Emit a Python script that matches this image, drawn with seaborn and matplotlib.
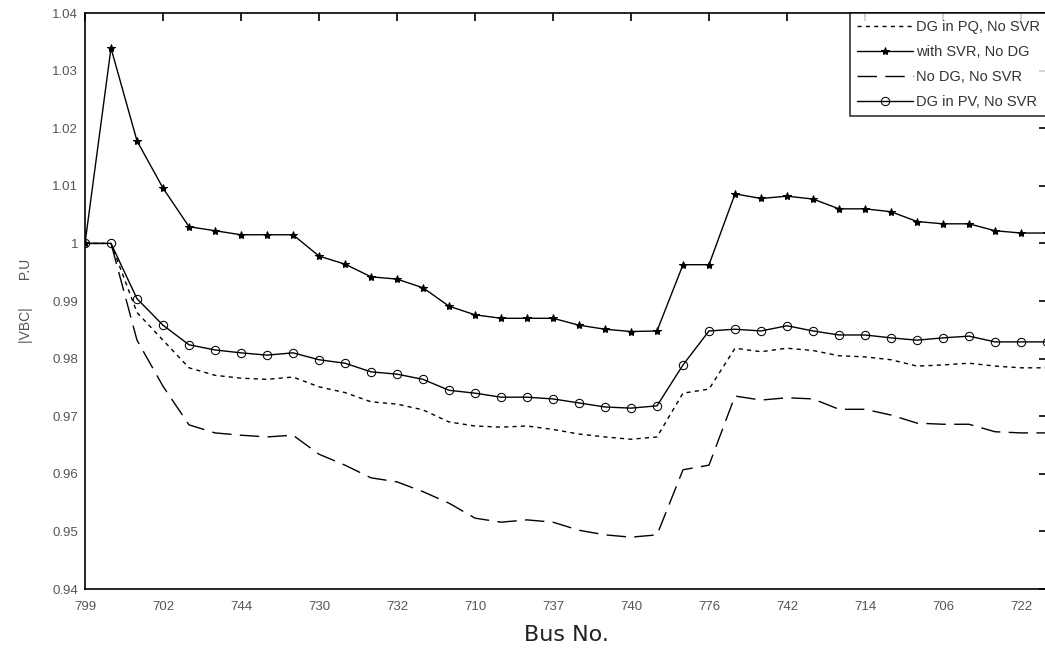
import numpy as np
import pandas as pd
import matplotlib
matplotlib.use("Agg")
import matplotlib.pyplot as plt
import seaborn as sns

# bus order along the feeder (only every third one is labelled)
tick_pos = [0, 3, 6, 9, 12, 15, 18, 21, 24, 27, 30, 33, 36]
tick_labels = ["799", "702", "744", "730", "732", "710", "737", "740",
               "776", "742", "714", "706", "722"]

dg_pq = [1.0, 1.0, 0.988, 0.9832, 0.9784, 0.9771, 0.9766, 0.9764, 0.9768, 0.9751,
         0.9741, 0.9725, 0.9721, 0.9711, 0.9690, 0.9683, 0.9681, 0.9683, 0.9677, 0.9669,
         0.9664, 0.9660, 0.9664, 0.9740, 0.9747, 0.9818, 0.9812, 0.9818, 0.9814, 0.9805,
         0.9803, 0.9798, 0.9787, 0.9789, 0.9792, 0.9787, 0.9784, 0.9784]
with_svr = [1.0, 1.0339, 1.0178, 1.0096, 1.0029, 1.0022, 1.0015, 1.0015, 1.0015, 0.9978,
            0.9964, 0.9942, 0.9938, 0.9923, 0.9891, 0.9876, 0.9870, 0.9870, 0.9870, 0.9858,
            0.9851, 0.9847, 0.9848, 0.9963, 0.9963, 1.0086, 1.0078, 1.0082, 1.0077, 1.0060,
            1.0060, 1.0055, 1.0038, 1.0034, 1.0034, 1.0022, 1.0018, 1.0018]
no_dg = [1.0, 1.0, 0.9832, 0.9752, 0.9685, 0.9671, 0.9667, 0.9664, 0.9667, 0.9634,
         0.9615, 0.9593, 0.9586, 0.9569, 0.9549, 0.9523, 0.9516, 0.9520, 0.9516, 0.9502,
         0.9494, 0.9490, 0.9494, 0.9607, 0.9615, 0.9735, 0.9728, 0.9732, 0.9730, 0.9712,
         0.9712, 0.9702, 0.9688, 0.9686, 0.9686, 0.9673, 0.9671, 0.9671]
dg_pv = [1.0, 1.0, 0.9904, 0.9858, 0.9824, 0.9815, 0.9810, 0.9806, 0.9810, 0.9798,
         0.9792, 0.9777, 0.9773, 0.9764, 0.9745, 0.9740, 0.9733, 0.9733, 0.9730, 0.9723,
         0.9716, 0.9714, 0.9718, 0.9789, 0.9848, 0.9851, 0.9848, 0.9857, 0.9848, 0.9841,
         0.9841, 0.9836, 0.9832, 0.9836, 0.9839, 0.9829, 0.9829, 0.9829]

df = pd.DataFrame({
    "idx": np.arange(len(dg_pq)),
    "DG in PQ, No SVR": dg_pq,
    "with SVR, No DG": with_svr,
    "No DG, No SVR": no_dg,
    "DG in PV, No SVR": dg_pv,
})

sns.set_style("white")
plt.rcParams["font.family"] = ["Liberation Sans", "DejaVu Sans"]

fig = plt.figure(figsize=(10.45, 6.57), dpi=100)
ax = fig.add_axes([85 / 1045, 68 / 657, 962 / 1045, 576 / 657])

styles = {
    "DG in PQ, No SVR": dict(linestyle=(0, (3, 3)), marker=None),
    "with SVR, No DG": dict(linestyle="-", marker="*", markersize=6,
                            markerfacecolor="black", markeredgecolor="black"),
    "No DG, No SVR": dict(linestyle=(0, (14, 6)), marker=None),
    "DG in PV, No SVR": dict(linestyle="-", marker="o", markersize=6,
                             markerfacecolor="none", markeredgecolor="black"),
}
for name, st in styles.items():
    sns.lineplot(data=df, x="idx", y=name, ax=ax, color="black", linewidth=1,
                 label=name, **st)

ax.set_xlim(0, 37)
ax.set_ylim(0.94, 1.04)
ax.set_xticks(tick_pos)
ax.set_xticklabels(tick_labels)
ax.set_yticks(np.round(np.arange(0.94, 1.0401, 0.01), 2))
ax.set_yticklabels(["0.94", "0.95", "0.96", "0.97", "0.98", "0.99", "1",
                    "1.01", "1.02", "1.03", "1.04"])
ax.tick_params(direction="in", length=6, width=1.2, color="black",
               top=True, right=True, labelsize=9.5, labelcolor="#555555", pad=9)
ax.tick_params(axis="y", pad=5)
for sp in ax.spines.values():
    sp.set_color("black")
    sp.set_linewidth(1.2)

ax.set_xlabel("Bus No.", fontsize=16, color="#222222", family="DejaVu Sans", labelpad=8)
ax.set_ylabel("|VBC|       P.U", fontsize=10, color="#555555", labelpad=14)

leg = ax.legend(loc="upper right", fontsize=10.5, frameon=True, fancybox=False,
                edgecolor="black", borderaxespad=0, handlelength=3.8,
                handletextpad=0.2, labelspacing=0.75, borderpad=0.5)
leg.get_frame().set_linewidth(1.2)
for t in leg.get_texts():
    t.set_color("#333333")

plt.savefig("out.png", dpi=100)
plt.close()
